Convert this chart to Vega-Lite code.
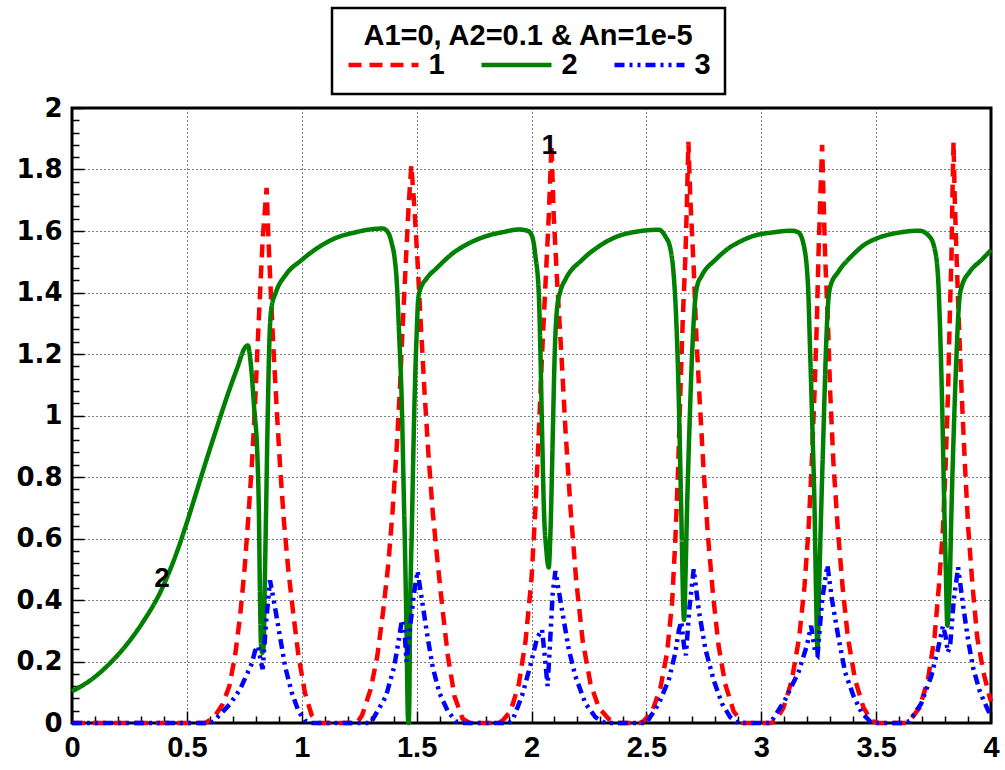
{
"$schema":"https://vega.github.io/schema/vega-lite/v6.json",
"width":919,"height":615,"autosize":"none",
"padding":{"left":72,"top":108,"right":14,"bottom":47},
"background":"white",
"config":{"view":{"stroke":"black","strokeWidth":3},"font":"Liberation Sans"},
"data":{"values":[
{"s":"1","x":0,"y":0},{"s":"1","x":0.58,"y":0},{"s":"1","x":0.62,"y":0.02},{"s":"1","x":0.655,"y":0.06},{"s":"1","x":0.685,"y":0.12},{"s":"1","x":0.71,"y":0.22},{"s":"1","x":0.732,"y":0.35},{"s":"1","x":0.751,"y":0.5},{"s":"1","x":0.768,"y":0.674},{"s":"1","x":0.783,"y":0.842},{"s":"1","x":0.796,"y":1.022},{"s":"1","x":0.807,"y":1.214},{"s":"1","x":0.819,"y":1.406},{"s":"1","x":0.83,"y":1.574},{"s":"1","x":0.847,"y":1.74},{"s":"1","x":0.855,"y":1.574},{"s":"1","x":0.865,"y":1.406},{"s":"1","x":0.877,"y":1.214},{"s":"1","x":0.891,"y":1.022},{"s":"1","x":0.906,"y":0.83},{"s":"1","x":0.923,"y":0.65},{"s":"1","x":0.942,"y":0.494},{"s":"1","x":0.964,"y":0.35},{"s":"1","x":0.986,"y":0.218},{"s":"1","x":1.014,"y":0.098},{"s":"1","x":1.043,"y":0.026},{"s":"1","x":1.075,"y":0},
{"s":"1","x":1.24,"y":0},{"s":"1","x":1.263,"y":0.026},{"s":"1","x":1.3,"y":0.11},{"s":"1","x":1.329,"y":0.218},{"s":"1","x":1.354,"y":0.362},{"s":"1","x":1.377,"y":0.518},{"s":"1","x":1.395,"y":0.686},{"s":"1","x":1.412,"y":0.878},{"s":"1","x":1.427,"y":1.082},{"s":"1","x":1.439,"y":1.286},{"s":"1","x":1.453,"y":1.5},{"s":"1","x":1.465,"y":1.68},{"s":"1","x":1.477,"y":1.814},{"s":"1","x":1.49,"y":1.68},{"s":"1","x":1.504,"y":1.5},{"s":"1","x":1.519,"y":1.286},{"s":"1","x":1.534,"y":1.082},{"s":"1","x":1.551,"y":0.878},{"s":"1","x":1.57,"y":0.686},{"s":"1","x":1.592,"y":0.518},{"s":"1","x":1.614,"y":0.362},{"s":"1","x":1.636,"y":0.218},{"s":"1","x":1.665,"y":0.086},{"s":"1","x":1.7,"y":0.014},{"s":"1","x":1.73,"y":0},
{"s":"1","x":1.85,"y":0},{"s":"1","x":1.872,"y":0.006},{"s":"1","x":1.909,"y":0.038},{"s":"1","x":1.945,"y":0.127},{"s":"1","x":1.974,"y":0.266},{"s":"1","x":2.0,"y":0.468},{"s":"1","x":2.017,"y":0.696},{"s":"1","x":2.032,"y":0.95},{"s":"1","x":2.046,"y":1.2},{"s":"1","x":2.061,"y":1.43},{"s":"1","x":2.075,"y":1.646},{"s":"1","x":2.087,"y":1.88},{"s":"1","x":2.097,"y":1.646},{"s":"1","x":2.112,"y":1.43},{"s":"1","x":2.13,"y":1.2},{"s":"1","x":2.148,"y":0.95},{"s":"1","x":2.17,"y":0.696},{"s":"1","x":2.194,"y":0.468},{"s":"1","x":2.223,"y":0.266},{"s":"1","x":2.257,"y":0.127},{"s":"1","x":2.293,"y":0.05},{"s":"1","x":2.336,"y":0.013},{"s":"1","x":2.37,"y":0},
{"s":"1","x":2.47,"y":0},{"s":"1","x":2.488,"y":0.006},{"s":"1","x":2.525,"y":0.038},{"s":"1","x":2.561,"y":0.114},{"s":"1","x":2.59,"y":0.228},{"s":"1","x":2.612,"y":0.392},{"s":"1","x":2.626,"y":0.595},{"s":"1","x":2.638,"y":0.823},{"s":"1","x":2.648,"y":1.076},{"s":"1","x":2.658,"y":1.304},{"s":"1","x":2.67,"y":1.52},{"s":"1","x":2.677,"y":1.71},{"s":"1","x":2.683,"y":1.89},{"s":"1","x":2.691,"y":1.71},{"s":"1","x":2.706,"y":1.48},{"s":"1","x":2.717,"y":1.266},{"s":"1","x":2.732,"y":1.05},{"s":"1","x":2.749,"y":0.823},{"s":"1","x":2.768,"y":0.608},{"s":"1","x":2.79,"y":0.418},{"s":"1","x":2.814,"y":0.253},{"s":"1","x":2.843,"y":0.127},{"s":"1","x":2.88,"y":0.038},{"s":"1","x":2.92,"y":0},
{"s":"1","x":3.04,"y":0},{"s":"1","x":3.061,"y":0.006},{"s":"1","x":3.097,"y":0.05},{"s":"1","x":3.133,"y":0.139},{"s":"1","x":3.165,"y":0.278},{"s":"1","x":3.188,"y":0.443},{"s":"1","x":3.206,"y":0.633},{"s":"1","x":3.22,"y":0.848},{"s":"1","x":3.232,"y":1.076},{"s":"1","x":3.242,"y":1.304},{"s":"1","x":3.249,"y":1.52},{"s":"1","x":3.257,"y":1.71},{"s":"1","x":3.265,"y":1.88},{"s":"1","x":3.271,"y":1.71},{"s":"1","x":3.278,"y":1.52},{"s":"1","x":3.29,"y":1.304},{"s":"1","x":3.3,"y":1.076},{"s":"1","x":3.314,"y":0.848},{"s":"1","x":3.333,"y":0.633},{"s":"1","x":3.354,"y":0.443},{"s":"1","x":3.377,"y":0.278},{"s":"1","x":3.409,"y":0.139},{"s":"1","x":3.445,"y":0.05},{"s":"1","x":3.481,"y":0.006},{"s":"1","x":3.51,"y":0},
{"s":"1","x":3.63,"y":0},{"s":"1","x":3.652,"y":0.013},{"s":"1","x":3.689,"y":0.05},{"s":"1","x":3.725,"y":0.139},{"s":"1","x":3.754,"y":0.278},{"s":"1","x":3.773,"y":0.443},{"s":"1","x":3.791,"y":0.633},{"s":"1","x":3.803,"y":0.848},{"s":"1","x":3.813,"y":1.076},{"s":"1","x":3.82,"y":1.304},{"s":"1","x":3.828,"y":1.52},{"s":"1","x":3.832,"y":1.71},{"s":"1","x":3.837,"y":1.89},{"s":"1","x":3.842,"y":1.71},{"s":"1","x":3.85,"y":1.52},{"s":"1","x":3.86,"y":1.304},{"s":"1","x":3.872,"y":1.076},{"s":"1","x":3.886,"y":0.848},{"s":"1","x":3.901,"y":0.633},{"s":"1","x":3.92,"y":0.443},{"s":"1","x":3.94,"y":0.278},{"s":"1","x":3.967,"y":0.165},{"s":"1","x":3.994,"y":0.085},{"s":"1","x":4.0,"y":0.07},
{"s":"2","x":0,"y":0.103},{"s":"2","x":0.093,"y":0.146},{"s":"2","x":0.166,"y":0.195},{"s":"2","x":0.238,"y":0.255},{"s":"2","x":0.311,"y":0.331},{"s":"2","x":0.384,"y":0.425},{"s":"2","x":0.456,"y":0.555},{"s":"2","x":0.5,"y":0.652},{"s":"2","x":0.544,"y":0.757},{"s":"2","x":0.587,"y":0.86},{"s":"2","x":0.631,"y":0.962},{"s":"2","x":0.674,"y":1.06},{"s":"2","x":0.718,"y":1.152},{"s":"2","x":0.754,"y":1.222},{"s":"2","x":0.765,"y":1.228},{"s":"2","x":0.78,"y":1.154},{"s":"2","x":0.793,"y":1.022},{"s":"2","x":0.807,"y":0.866},{"s":"2","x":0.814,"y":0.662},{"s":"2","x":0.818,"y":0.422},{"s":"2","x":0.823,"y":0.25},{"s":"2","x":0.828,"y":0.228},{"s":"2","x":0.834,"y":0.25},{"s":"2","x":0.839,"y":0.45},{"s":"2","x":0.845,"y":0.7},{"s":"2","x":0.851,"y":0.962},{"s":"2","x":0.859,"y":1.238},{"s":"2","x":0.868,"y":1.35},{"s":"2","x":0.888,"y":1.402},{"s":"2","x":0.931,"y":1.458},{"s":"2","x":1.0,"y":1.506},{"s":"2","x":1.077,"y":1.549},{"s":"2","x":1.15,"y":1.578},{"s":"2","x":1.23,"y":1.595},{"s":"2","x":1.296,"y":1.605},{"s":"2","x":1.354,"y":1.608},{"s":"2","x":1.376,"y":1.595},{"s":"2","x":1.391,"y":1.562},{"s":"2","x":1.405,"y":1.507},{"s":"2","x":1.413,"y":1.442},{"s":"2","x":1.424,"y":1.262},{"s":"2","x":1.436,"y":1.022},{"s":"2","x":1.443,"y":0.782},{"s":"2","x":1.45,"y":0.542},{"s":"2","x":1.456,"y":0.302},{"s":"2","x":1.462,"y":0.02},{"s":"2","x":1.465,"y":0},{"s":"2","x":1.468,"y":0.06},{"s":"2","x":1.471,"y":0.302},{"s":"2","x":1.48,"y":0.662},{"s":"2","x":1.49,"y":1.022},{"s":"2","x":1.5,"y":1.262},{"s":"2","x":1.507,"y":1.38},{"s":"2","x":1.515,"y":1.408},{"s":"2","x":1.544,"y":1.446},{"s":"2","x":1.587,"y":1.479},{"s":"2","x":1.66,"y":1.529},{"s":"2","x":1.733,"y":1.562},{"s":"2","x":1.806,"y":1.584},{"s":"2","x":1.879,"y":1.597},{"s":"2","x":1.945,"y":1.605},{"s":"2","x":1.985,"y":1.6},{"s":"2","x":2.003,"y":1.582},{"s":"2","x":2.017,"y":1.519},{"s":"2","x":2.032,"y":1.392},{"s":"2","x":2.039,"y":1.2},{"s":"2","x":2.046,"y":0.95},{"s":"2","x":2.054,"y":0.696},{"s":"2","x":2.064,"y":0.568},{"s":"2","x":2.075,"y":0.506},{"s":"2","x":2.083,"y":0.633},{"s":"2","x":2.093,"y":0.95},{"s":"2","x":2.101,"y":1.2},{"s":"2","x":2.112,"y":1.354},{"s":"2","x":2.126,"y":1.405},{"s":"2","x":2.148,"y":1.443},{"s":"2","x":2.22,"y":1.506},{"s":"2","x":2.293,"y":1.55},{"s":"2","x":2.372,"y":1.582},{"s":"2","x":2.45,"y":1.597},{"s":"2","x":2.554,"y":1.604},{"s":"2","x":2.583,"y":1.582},{"s":"2","x":2.604,"y":1.544},{"s":"2","x":2.619,"y":1.456},{"s":"2","x":2.629,"y":1.329},{"s":"2","x":2.638,"y":1.139},{"s":"2","x":2.648,"y":0.823},{"s":"2","x":2.655,"y":0.57},{"s":"2","x":2.659,"y":0.42},{"s":"2","x":2.664,"y":0.335},{"s":"2","x":2.671,"y":0.5},{"s":"2","x":2.677,"y":0.696},{"s":"2","x":2.687,"y":0.95},{"s":"2","x":2.699,"y":1.2},{"s":"2","x":2.71,"y":1.354},{"s":"2","x":2.72,"y":1.418},{"s":"2","x":2.742,"y":1.456},{"s":"2","x":2.8,"y":1.506},{"s":"2","x":2.858,"y":1.544},{"s":"2","x":2.901,"y":1.563},{"s":"2","x":2.97,"y":1.585},{"s":"2","x":3.046,"y":1.595},{"s":"2","x":3.133,"y":1.601},{"s":"2","x":3.162,"y":1.595},{"s":"2","x":3.184,"y":1.557},{"s":"2","x":3.203,"y":1.43},{"s":"2","x":3.213,"y":1.2},{"s":"2","x":3.223,"y":0.95},{"s":"2","x":3.232,"y":0.696},{"s":"2","x":3.238,"y":0.443},{"s":"2","x":3.245,"y":0.23},{"s":"2","x":3.252,"y":0.443},{"s":"2","x":3.261,"y":0.696},{"s":"2","x":3.271,"y":0.95},{"s":"2","x":3.281,"y":1.2},{"s":"2","x":3.29,"y":1.354},{"s":"2","x":3.3,"y":1.418},{"s":"2","x":3.336,"y":1.468},{"s":"2","x":3.394,"y":1.519},{"s":"2","x":3.452,"y":1.557},{"s":"2","x":3.503,"y":1.576},{"s":"2","x":3.601,"y":1.595},{"s":"2","x":3.688,"y":1.601},{"s":"2","x":3.732,"y":1.582},{"s":"2","x":3.754,"y":1.544},{"s":"2","x":3.769,"y":1.456},{"s":"2","x":3.779,"y":1.266},{"s":"2","x":3.788,"y":1.013},{"s":"2","x":3.795,"y":0.759},{"s":"2","x":3.803,"y":0.506},{"s":"2","x":3.81,"y":0.316},{"s":"2","x":3.816,"y":0.38},{"s":"2","x":3.82,"y":0.443},{"s":"2","x":3.828,"y":0.696},{"s":"2","x":3.838,"y":0.95},{"s":"2","x":3.85,"y":1.2},{"s":"2","x":3.861,"y":1.367},{"s":"2","x":3.872,"y":1.418},{"s":"2","x":3.908,"y":1.468},{"s":"2","x":3.959,"y":1.506},{"s":"2","x":4.0,"y":1.538},
{"s":"3","x":0,"y":0},{"s":"3","x":0.6,"y":0},{"s":"3","x":0.616,"y":0.005},{"s":"3","x":0.688,"y":0.062},{"s":"3","x":0.732,"y":0.11},{"s":"3","x":0.761,"y":0.158},{"s":"3","x":0.783,"y":0.194},{"s":"3","x":0.797,"y":0.235},{"s":"3","x":0.81,"y":0.25},{"s":"3","x":0.822,"y":0.2},{"s":"3","x":0.83,"y":0.175},{"s":"3","x":0.845,"y":0.33},{"s":"3","x":0.862,"y":0.464},{"s":"3","x":0.884,"y":0.374},{"s":"3","x":0.906,"y":0.278},{"s":"3","x":0.928,"y":0.182},{"s":"3","x":0.957,"y":0.098},{"s":"3","x":0.986,"y":0.038},{"s":"3","x":1.014,"y":0.008},{"s":"3","x":1.04,"y":0},
{"s":"3","x":1.3,"y":0},{"s":"3","x":1.366,"y":0.086},{"s":"3","x":1.402,"y":0.182},{"s":"3","x":1.424,"y":0.278},{"s":"3","x":1.436,"y":0.335},{"s":"3","x":1.447,"y":0.3},{"s":"3","x":1.456,"y":0.2},{"s":"3","x":1.47,"y":0.3},{"s":"3","x":1.488,"y":0.42},{"s":"3","x":1.504,"y":0.494},{"s":"3","x":1.526,"y":0.386},{"s":"3","x":1.548,"y":0.278},{"s":"3","x":1.57,"y":0.182},{"s":"3","x":1.599,"y":0.098},{"s":"3","x":1.636,"y":0.038},{"s":"3","x":1.672,"y":0.005},{"s":"3","x":1.7,"y":0},
{"s":"3","x":1.9,"y":0},{"s":"3","x":1.916,"y":0.006},{"s":"3","x":1.959,"y":0.089},{"s":"3","x":1.996,"y":0.19},{"s":"3","x":2.025,"y":0.278},{"s":"3","x":2.046,"y":0.304},{"s":"3","x":2.06,"y":0.2},{"s":"3","x":2.07,"y":0.12},{"s":"3","x":2.08,"y":0.25},{"s":"3","x":2.092,"y":0.42},{"s":"3","x":2.104,"y":0.494},{"s":"3","x":2.133,"y":0.367},{"s":"3","x":2.162,"y":0.24},{"s":"3","x":2.191,"y":0.152},{"s":"3","x":2.235,"y":0.063},{"s":"3","x":2.278,"y":0.019},{"s":"3","x":2.32,"y":0},
{"s":"3","x":2.5,"y":0},{"s":"3","x":2.554,"y":0.063},{"s":"3","x":2.597,"y":0.139},{"s":"3","x":2.626,"y":0.228},{"s":"3","x":2.641,"y":0.3},{"s":"3","x":2.652,"y":0.33},{"s":"3","x":2.664,"y":0.25},{"s":"3","x":2.672,"y":0.22},{"s":"3","x":2.688,"y":0.38},{"s":"3","x":2.706,"y":0.5},{"s":"3","x":2.728,"y":0.367},{"s":"3","x":2.757,"y":0.24},{"s":"3","x":2.793,"y":0.139},{"s":"3","x":2.829,"y":0.063},{"s":"3","x":2.865,"y":0.019},{"s":"3","x":2.9,"y":0},
{"s":"3","x":3.04,"y":0},{"s":"3","x":3.104,"y":0.076},{"s":"3","x":3.162,"y":0.165},{"s":"3","x":3.199,"y":0.253},{"s":"3","x":3.217,"y":0.316},{"s":"3","x":3.235,"y":0.228},{"s":"3","x":3.245,"y":0.22},{"s":"3","x":3.265,"y":0.4},{"s":"3","x":3.288,"y":0.513},{"s":"3","x":3.307,"y":0.405},{"s":"3","x":3.336,"y":0.278},{"s":"3","x":3.365,"y":0.165},{"s":"3","x":3.401,"y":0.089},{"s":"3","x":3.438,"y":0.032},{"s":"3","x":3.481,"y":0},
{"s":"3","x":3.62,"y":0},{"s":"3","x":3.645,"y":0.006},{"s":"3","x":3.696,"y":0.063},{"s":"3","x":3.74,"y":0.152},{"s":"3","x":3.769,"y":0.24},{"s":"3","x":3.791,"y":0.316},{"s":"3","x":3.803,"y":0.28},{"s":"3","x":3.812,"y":0.23},{"s":"3","x":3.822,"y":0.25},{"s":"3","x":3.838,"y":0.4},{"s":"3","x":3.857,"y":0.506},{"s":"3","x":3.879,"y":0.38},{"s":"3","x":3.901,"y":0.266},{"s":"3","x":3.923,"y":0.177},{"s":"3","x":3.952,"y":0.101},{"s":"3","x":3.989,"y":0.038},{"s":"3","x":4.0,"y":0.025}
]},
"encoding":{
"x":{"field":"x","type":"quantitative","scale":{"domain":[0,4],"nice":false,"zero":false},
"axis":{"title":null,"domain":false,"values":[0,0.1,0.2,0.3,0.4,0.5,0.6,0.7,0.8,0.9,1,1.1,1.2,1.3,1.4,1.5,1.6,1.7,1.8,1.9,2,2.1,2.2,2.3,2.4,2.5,2.6,2.7,2.8,2.9,3,3.1,3.2,3.3,3.4,3.5,3.6,3.7,3.8,3.9,4],
"labelExpr":"abs(datum.value*2-round(datum.value*2))<0.001 ? format(datum.value,'~g') : ''",
"labelFont":"Liberation Sans","labelFontWeight":"bold","labelFontSize":29,"labelColor":"black","labelPadding":22,"labelFlush":false,"labelOverlap":false,
"tickColor":"black","tickWidth":1.5,
"tickSize":{"condition":{"test":"abs(datum.value*2-round(datum.value*2))<0.001","value":-12},"value":-7},
"grid":true,"gridColor":"black","gridDash":[1,3],"gridWidth":1,
"gridOpacity":{"condition":{"test":"abs(datum.value*2-round(datum.value*2))<0.001","value":1},"value":0}}},
"y":{"field":"y","type":"quantitative","scale":{"domain":[0,2],"nice":false,"zero":false},
"axis":{"title":null,"domain":false,"values":[0,0.04,0.08,0.12,0.16,0.2,0.24,0.28,0.32,0.36,0.4,0.44,0.48,0.52,0.56,0.6,0.64,0.68,0.72,0.76,0.8,0.84,0.88,0.92,0.96,1,1.04,1.08,1.12,1.16,1.2,1.24,1.28,1.32,1.36,1.4,1.44,1.48,1.52,1.56,1.6,1.64,1.68,1.72,1.76,1.8,1.84,1.88,1.92,1.96,2],
"labelExpr":"abs(datum.value*5-round(datum.value*5))<0.001 ? format(datum.value,'~g') : ''",
"labelFont":"DejaVu Sans","labelFontWeight":"bold","labelFontSize":26,"labelColor":"black","labelPadding":22,"labelFlush":false,"labelOverlap":false,
"tickColor":"black","tickWidth":1.5,
"tickSize":{"condition":{"test":"abs(datum.value*5-round(datum.value*5))<0.001","value":-12},"value":-7},
"grid":true,"gridColor":"black","gridDash":[1,3],"gridWidth":1,
"gridOpacity":{"condition":{"test":"abs(datum.value*5-round(datum.value*5))<0.001","value":1},"value":0}}}
},
"layer":[
{"transform":[{"filter":"datum.s=='1'"}],"mark":{"type":"line","strokeWidth":4.5,"strokeCap":"butt"},
"encoding":{
"color":{"field":"s","type":"nominal","scale":{"domain":["1","2","3"],"range":["#ff0000","#008000","#0000ff"]},
"legend":{"title":"A1=0, A2=0.1 & An=1e-5","orient":"none","legendX":260,"legendY":-100,"direction":"horizontal","titleAnchor":"middle","titleFont":"Liberation Sans","titleFontSize":29,"titleFontWeight":"bold","titleColor":"black","titlePadding":-6,"titleLimit":0,"labelFont":"Liberation Sans","labelFontSize":29,"labelFontWeight":"bold","labelColor":"black","labelOffset":25,"symbolType":"M-2,0H2","symbolSize":1225,"symbolOffset":17.5,"symbolStrokeWidth":4.5,"columnPadding":27,"padding":14,"strokeColor":"black","fillColor":"white","encode":{"legend":{"update":{"strokeWidth":{"value":2.5}}}}}},
"strokeDash":{"field":"s","type":"nominal","scale":{"domain":["1","2","3"],"range":[[13,8],[1,0],[10,5,3,5,3,5]]},
"legend":{"title":"A1=0, A2=0.1 & An=1e-5","orient":"none","legendX":260,"legendY":-100,"direction":"horizontal","titleAnchor":"middle","titleFont":"Liberation Sans","titleFontSize":29,"titleFontWeight":"bold","titleColor":"black","titlePadding":-6,"titleLimit":0,"labelFont":"Liberation Sans","labelFontSize":29,"labelFontWeight":"bold","labelColor":"black","labelOffset":25,"symbolType":"M-2,0H2","symbolSize":1225,"symbolOffset":17.5,"symbolStrokeWidth":4.5,"columnPadding":27,"padding":14,"strokeColor":"black","fillColor":"white","encode":{"legend":{"update":{"strokeWidth":{"value":2.5}}}}}}}},
{"transform":[{"filter":"datum.s=='2'"}],"mark":{"type":"line","strokeWidth":4.5,"strokeCap":"butt","interpolate":"monotone"},
"encoding":{"color":{"field":"s","type":"nominal"},"strokeDash":{"field":"s","type":"nominal"}}},
{"transform":[{"filter":"datum.s=='3'"}],"mark":{"type":"line","strokeWidth":4.5,"strokeCap":"butt"},
"encoding":{"color":{"field":"s","type":"nominal"},"strokeDash":{"field":"s","type":"nominal"}}},
{"data":{"values":[{"x":2.077,"y":1.876,"t":"1"},{"x":0.392,"y":0.468,"t":"2"}]},
"mark":{"type":"text","font":"Liberation Sans","fontWeight":"bold","fontSize":28,"color":"black"},
"encoding":{"text":{"field":"t","type":"nominal"}}}
]
}
